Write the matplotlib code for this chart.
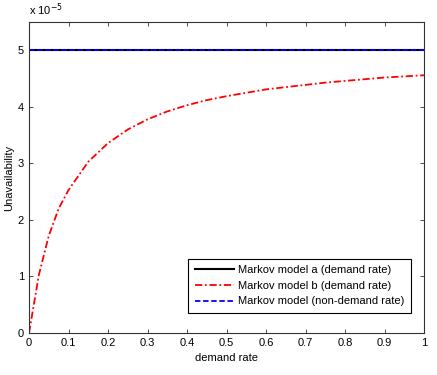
import matplotlib.pyplot as plt
import numpy as np

plt.rcParams['font.family'] = ['Liberation Sans', 'DejaVu Sans']

# demand rate (x axis)
demand_rate = [0.0, 0.025, 0.05, 0.075, 0.1, 0.15, 0.2, 0.25, 0.3, 0.35, 0.4, 0.45,
               0.5, 0.55, 0.6, 0.65, 0.7, 0.75, 0.8, 0.85, 0.9, 0.95, 1.0]

# unavailability, in units of 1e-5
model_a = [5.0] * len(demand_rate)
model_b = [0.0, 1.03, 1.72, 2.2, 2.53, 3.03, 3.36, 3.6, 3.78, 3.92, 4.03, 4.12,
           4.19, 4.25, 4.31, 4.35, 4.39, 4.43, 4.46, 4.49, 4.52, 4.54, 4.56]
model_non_demand = [5.0] * len(demand_rate)

labels = ["Markov model a (demand rate)",
          "Markov model b (demand rate)",
          "Markov model (non-demand rate)"]

scale = 1e-5

fig = plt.figure(figsize=(4.37, 3.75), dpi=100)
ax = fig.add_axes([0.0664, 0.112, 0.904, 0.829])

x = np.array(demand_rate)
ax.plot(x, np.array(model_a) * scale, color="black", linewidth=1.5, label=labels[0])
ax.plot(x, np.array(model_b) * scale, color="red", linewidth=1.3,
        linestyle=(0, (4, 1.5, 1, 1.5)), label=labels[1])
ax.plot(x, np.array(model_non_demand) * scale, color="blue", linewidth=1.3,
        linestyle=(0, (3, 1.5)), label=labels[2])

ax.set_xlim(0, 1)
ax.set_ylim(0, 5.5e-5)
ax.set_xticks(np.arange(0, 1.01, 0.1))
ax.set_xticklabels(["0", "0.1", "0.2", "0.3", "0.4", "0.5", "0.6", "0.7", "0.8", "0.9", "1"])
ax.set_yticks(np.arange(0, 6) * scale)
ax.set_yticklabels([str(i) for i in range(6)])
ax.tick_params(direction="in", top=True, right=True, labelsize=8, length=3, width=0.6,
               color="#333333")
for spine in ax.spines.values():
    spine.set_linewidth(0.8)
    spine.set_color("#333333")

ax.set_xlabel("demand rate", fontsize=8, labelpad=4)
ax.set_ylabel("Unavailability", fontsize=8, labelpad=3)
ax.text(0.0, 1.012, "x 10$^{-5}$", transform=ax.transAxes, fontsize=8, va="bottom")

leg = ax.legend(loc="lower right", bbox_to_anchor=(0.967, 0.064), fontsize=8,
                fancybox=False, framealpha=1, edgecolor="black", borderaxespad=0,
                handlelength=3.5, handletextpad=0.4, labelspacing=0.5, borderpad=0.6)
leg.get_frame().set_linewidth(0.8)

fig.savefig("out.png", dpi=100)
